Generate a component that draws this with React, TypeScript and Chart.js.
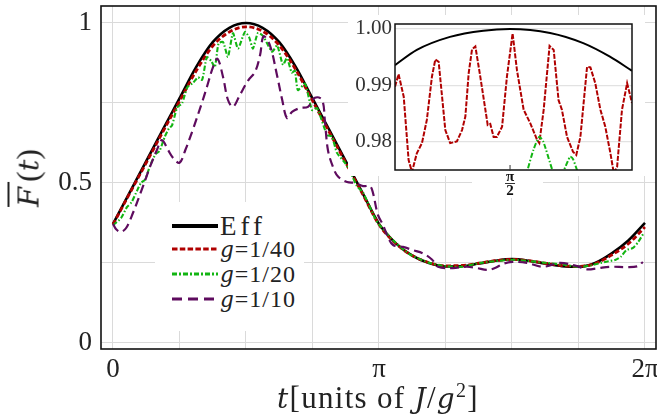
import React, { useEffect, useRef } from 'react';
import { Chart, registerables } from 'chart.js';

Chart.register(...registerables);

const FONT = '"Liberation Serif", "Tinos", "DejaVu Serif", "Noto Serif", serif';
const ITALIC_FONT = '"DejaVu Serif", "Liberation Serif", serif';
const RED = '#b00000';
const GREEN = '#12b512';
const PURPLE = '#5e0b5e';

// ---------- main plot (t in units of π) ----------
const tGrid = [0, 0.0625, 0.125, 0.1875, 0.25, 0.3125, 0.375, 0.4375, 0.5, 0.5625, 0.625, 0.6875, 0.75, 0.8125, 0.875, 0.9375, 1, 1.0625, 1.125, 1.1875, 1.25, 1.3125, 1.375, 1.4375, 1.5, 1.5625, 1.625, 1.6875, 1.75, 1.8125, 1.875, 1.9375, 2];
const effF = [0.372, 0.470, 0.568, 0.667, 0.764, 0.862, 0.940, 0.985, 1.000, 0.985, 0.940, 0.862, 0.764, 0.667, 0.568, 0.470, 0.372, 0.312, 0.273, 0.250, 0.239, 0.240, 0.248, 0.257, 0.262, 0.257, 0.248, 0.240, 0.238, 0.250, 0.280, 0.320, 0.375];
const g40F = [0.370, 0.467, 0.563, 0.660, 0.755, 0.850, 0.928, 0.972, 0.988, 0.974, 0.930, 0.853, 0.757, 0.660, 0.563, 0.467, 0.370, 0.311, 0.273, 0.251, 0.241, 0.242, 0.249, 0.257, 0.261, 0.257, 0.249, 0.242, 0.239, 0.248, 0.275, 0.310, 0.362];

const g20T = [0, 0.03, 0.053, 0.07, 0.09, 0.105, 0.12, 0.14, 0.16, 0.175, 0.195, 0.21, 0.222, 0.241, 0.26, 0.28, 0.30, 0.32, 0.335, 0.353, 0.37, 0.383, 0.397, 0.414, 0.432, 0.451, 0.470, 0.496, 0.512, 0.526, 0.545, 0.565, 0.598, 0.617, 0.639, 0.654, 0.672, 0.684, 0.695, 0.722, 0.748, 0.767, 0.805, 0.823, 0.842, 0.872, 0.895, 0.917, 0.94, 0.985, 1.0, 1.06, 1.12, 1.19, 1.25, 1.31, 1.38, 1.5, 1.56, 1.63, 1.70, 1.75, 1.80, 1.85, 1.89, 1.91, 1.93, 1.955, 1.975, 1.995];
const g20F = [0.368, 0.39, 0.425, 0.44, 0.475, 0.50, 0.51, 0.555, 0.59, 0.60, 0.645, 0.67, 0.68, 0.735, 0.75, 0.80, 0.812, 0.83, 0.822, 0.893, 0.88, 0.862, 0.937, 0.94, 0.894, 0.968, 0.92, 0.972, 0.955, 0.92, 0.969, 0.958, 0.91, 0.93, 0.869, 0.89, 0.845, 0.85, 0.79, 0.81, 0.728, 0.734, 0.65, 0.645, 0.594, 0.563, 0.53, 0.49, 0.47, 0.39, 0.37, 0.315, 0.275, 0.25, 0.24, 0.238, 0.25, 0.26, 0.256, 0.25, 0.244, 0.237, 0.243, 0.253, 0.26, 0.27, 0.29, 0.297, 0.316, 0.343];

const g10T = [0, 0.012, 0.03, 0.05, 0.075, 0.113, 0.139, 0.165, 0.184, 0.207, 0.226, 0.25, 0.272, 0.30, 0.338, 0.353, 0.376, 0.393, 0.414, 0.432, 0.451, 0.477, 0.508, 0.534, 0.553, 0.566, 0.59, 0.617, 0.636, 0.654, 0.673, 0.703, 0.733, 0.759, 0.786, 0.797, 0.808, 0.827, 0.846, 0.88, 0.91, 0.94, 0.966, 0.977, 0.996, 1.015, 1.034, 1.053, 1.09, 1.128, 1.165, 1.2, 1.222, 1.278, 1.33, 1.368, 1.406, 1.436, 1.466, 1.5, 1.556, 1.617, 1.68, 1.744, 1.782, 1.82, 1.868, 1.932, 1.974, 1.992];
const g10F = [0.372, 0.355, 0.347, 0.36, 0.406, 0.49, 0.55, 0.603, 0.634, 0.603, 0.578, 0.563, 0.603, 0.666, 0.76, 0.80, 0.862, 0.888, 0.83, 0.76, 0.738, 0.775, 0.82, 0.847, 0.90, 0.958, 0.93, 0.835, 0.76, 0.703, 0.722, 0.734, 0.738, 0.766, 0.76, 0.69, 0.603, 0.55, 0.52, 0.503, 0.50, 0.49, 0.49, 0.47, 0.40, 0.369, 0.33, 0.306, 0.30, 0.29, 0.28, 0.26, 0.238, 0.234, 0.238, 0.234, 0.228, 0.234, 0.247, 0.253, 0.25, 0.238, 0.25, 0.24, 0.23, 0.233, 0.238, 0.237, 0.24, 0.253];

const xTicks = [0, 0.25, 0.5, 0.75, 1, 1.25, 1.5, 1.75, 2];
const xTickText = ['0', '', '', '', 'π', '', '', '', '2π'];
const yTicks = [0, 0.25, 0.5, 0.75, 1];
const yTickText = ['0', '', '0.5', '', '1'];

// ---------- inset (t in units of π) ----------
const insetEffT = [0.4552, 0.4637, 0.4766, 0.4896, 0.5, 0.5156, 0.5285, 0.5389, 0.5475];
const insetEffF = [0.9936, 0.9963, 0.9986, 0.9997, 1.0, 0.9993, 0.9975, 0.9951, 0.9926];
const insetG40T = [0.4552, 0.4566, 0.4586, 0.4605, 0.4618, 0.4637, 0.4657, 0.4676, 0.4696, 0.4709, 0.4722, 0.4748, 0.4767, 0.4793, 0.4813, 0.4826, 0.4839, 0.4852, 0.4865, 0.4884, 0.4904, 0.4913, 0.4923, 0.4936, 0.4949, 0.4969, 0.4988, 0.5010, 0.5027, 0.5053, 0.5079, 0.5105, 0.5114, 0.5131, 0.5154, 0.5170, 0.5189, 0.5202, 0.5222, 0.5245, 0.5258, 0.5274, 0.5300, 0.5313, 0.5332, 0.5352, 0.5371, 0.5391, 0.5404, 0.5417, 0.5436, 0.5456, 0.5475];
const insetG40F = [0.9898, 0.9920, 0.9880, 0.9768, 0.9747, 0.9780, 0.9798, 0.9839, 0.9916, 0.9946, 0.9942, 0.9821, 0.9798, 0.9801, 0.9821, 0.9845, 0.9922, 0.9964, 0.9969, 0.9916, 0.9857, 0.9830, 0.9832, 0.9809, 0.9809, 0.9827, 0.9916, 0.9992, 0.9927, 0.9857, 0.9833, 0.9804, 0.9798, 0.9857, 0.9970, 0.9963, 0.9874, 0.9857, 0.9809, 0.9783, 0.9777, 0.9809, 0.9933, 0.9932, 0.9904, 0.9857, 0.9827, 0.9780, 0.9745, 0.9756, 0.9857, 0.9904, 0.9869];
const insetG20T = [0.504, 0.5068, 0.5091, 0.5114, 0.5130, 0.5165, 0.5187, 0.5210, 0.5234, 0.5245, 0.5261, 0.529];
const insetG20F = [0.970, 0.975, 0.9786, 0.9809, 0.9800, 0.975, 0.9725, 0.975, 0.9774, 0.9770, 0.975, 0.971];
const insetYTicks = [0.98, 0.99, 1.0];
const insetXTicks = [0.5];

const pts = (t: number[], f: number[]) => t.map((x, i) => ({ x, y: f[i] }));

const framePlugin = {
  id: 'frame',
  afterDraw(chart: any) {
    const { ctx, chartArea } = chart;
    const { left, top, right, bottom } = chartArea;
    ctx.save();
    ctx.strokeStyle = '#111';
    ctx.lineWidth = 1.6;
    ctx.strokeRect(left, top, right - left, bottom - top);
    ctx.restore();
  },
};

function MainChart() {
  const ref = useRef<HTMLCanvasElement>(null);
  useEffect(() => {
    const chart = new Chart(ref.current as HTMLCanvasElement, {
      type: 'line',
      data: {
        datasets: [
          { label: 'g=1/10', data: pts(g10T, g10F), borderColor: PURPLE, borderWidth: 2.2, borderDash: [9, 5], tension: 0.35, order: 1 },
          { label: 'g=1/20', data: pts(g20T, g20F), borderColor: GREEN, borderWidth: 2.1, borderDash: [5, 2, 1.5, 2], tension: 0.2, order: 2 },
          { label: 'g=1/40', data: pts(tGrid, g40F), borderColor: RED, borderWidth: 2.8, borderDash: [5, 2.5], cubicInterpolationMode: 'monotone', order: 3 },
          { label: 'Eff', data: pts(tGrid, effF), borderColor: '#000', borderWidth: 2.6, cubicInterpolationMode: 'monotone', order: 4 },
        ] as any,
      },
      options: {
        animation: false,
        responsive: false,
        maintainAspectRatio: false,
        elements: { point: { radius: 0 } },
        layout: { padding: { left: 0, right: 1, top: 6, bottom: 0 } },
        plugins: { legend: { display: false }, tooltip: { enabled: false } },
        scales: {
          x: {
            type: 'linear',
            min: -0.0451,
            max: 2.0414,
            afterBuildTicks: (s: any) => { s.ticks = xTicks.map((v) => ({ value: v })); },
            afterFit: (s: any) => { s.height = 71; s.paddingLeft = 0; s.paddingRight = 0; },
            grid: { color: '#dadada', lineWidth: 1, drawTicks: false },
            border: { display: false },
            ticks: {
              padding: 5,
              maxRotation: 0,
              autoSkip: false,
              color: '#222',
              font: { family: FONT, size: 27 },
              callback: (_v: any, i: number) => xTickText[i],
            },
          },
          y: {
            type: 'linear',
            min: -0.019,
            max: 1.053,
            afterBuildTicks: (s: any) => { s.ticks = yTicks.map((v) => ({ value: v })); },
            afterFit: (s: any) => { s.width = 101; s.paddingTop = 0; s.paddingBottom = 0; },
            grid: { color: '#dadada', lineWidth: 1, drawTicks: false },
            border: { display: false },
            ticks: {
              padding: 9,
              autoSkip: false,
              color: '#222',
              font: { family: FONT, size: 27 },
              callback: (_v: any, i: number) => yTickText[i],
            },
          },
        },
      } as any,
      plugins: [framePlugin],
    });
    return () => chart.destroy();
  }, []);
  return <canvas ref={ref} width={657} height={420} style={{ position: 'absolute', left: 0, top: 0, display: 'block' }} />;
}

const insetBgPlugin = {
  id: 'insetBg',
  beforeDraw(chart: any) {
    const { ctx } = chart;
    ctx.save();
    ctx.fillStyle = '#fff';
    ctx.fillRect(8, 5, 297, 161);
    ctx.fillRect(132, 162, 71, 26);
    ctx.restore();
  },
  afterDraw(chart: any) {
    const { ctx, chartArea, scales } = chart;
    const { left, top, right, bottom } = chartArea;
    ctx.save();
    ctx.strokeStyle = '#111';
    ctx.lineWidth = 1.5;
    ctx.strokeRect(left, top, right - left, bottom - top);
    const px = scales.x.getPixelForValue(insetXTicks[0]);
    ctx.strokeStyle = '#333';
    ctx.lineWidth = 1;
    ctx.beginPath();
    ctx.moveTo(px, bottom - 5);
    ctx.lineTo(px, bottom + 1);
    ctx.stroke();
    ctx.beginPath();
    ctx.moveTo(px - 5, bottom + 13.5);
    ctx.lineTo(px + 5, bottom + 13.5);
    ctx.stroke();
    ctx.restore();
  },
};

function InsetChart() {
  const ref = useRef<HTMLCanvasElement>(null);
  useEffect(() => {
    const chart = new Chart(ref.current as HTMLCanvasElement, {
      type: 'line',
      data: {
        datasets: [
          { label: 'g=1/20', data: pts(insetG20T, insetG20F), borderColor: GREEN, borderWidth: 2, borderDash: [5, 2, 1.5, 2], tension: 0.2, order: 1 },
          { label: 'g=1/40', data: pts(insetG40T, insetG40F), borderColor: RED, borderWidth: 2, borderDash: [5, 1.5], tension: 0, order: 2 },
          { label: 'Eff', data: pts(insetEffT, insetEffF), borderColor: '#000', borderWidth: 2, cubicInterpolationMode: 'monotone', order: 3 },
        ] as any,
      },
      options: {
        animation: false,
        responsive: false,
        maintainAspectRatio: false,
        elements: { point: { radius: 0 } },
        layout: { padding: { left: 0, right: 18, top: 14, bottom: 0 } },
        plugins: { legend: { display: false }, tooltip: { enabled: false } },
        scales: {
          x: {
            type: 'linear',
            min: 0.4552,
            max: 0.5475,
            afterBuildTicks: (s: any) => { s.ticks = insetXTicks.map((v) => ({ value: v })); },
            afterFit: (s: any) => { s.height = 32; s.paddingLeft = 0; s.paddingRight = 0; },
            grid: { display: false, drawTicks: false },
            border: { display: false },
            ticks: {
              padding: 0,
              maxRotation: 0,
              autoSkip: false,
              color: '#111',
              font: { family: FONT, size: 15, weight: 'bold', lineHeight: 0.95 },
              callback: () => ['π', '2'],
            },
          },
          y: {
            type: 'linear',
            min: 0.97504,
            max: 1.00088,
            afterBuildTicks: (s: any) => { s.ticks = insetYTicks.map((v) => ({ value: v })); },
            afterFit: (s: any) => { s.width = 55; s.paddingTop = 0; s.paddingBottom = 0; },
            grid: { color: '#e2e2e2', lineWidth: 1.2, drawTicks: false },
            border: { display: false },
            ticks: {
              padding: 3,
              autoSkip: false,
              color: '#333',
              font: { family: FONT, size: 21 },
              callback: (v: any) => Number(v).toFixed(2),
            },
          },
        },
      } as any,
      plugins: [insetBgPlugin],
    });
    return () => chart.destroy();
  }, []);
  return <canvas ref={ref} width={310} height={192} style={{ position: 'absolute', left: 340, top: 10, display: 'block' }} />;
}

const legendItems = [
  { label: 'Eff', italicG: false, color: '#000', width: 4, dash: '' },
  { label: '=1/40', italicG: true, color: RED, width: 3, dash: '5.5 2.3' },
  { label: '=1/20', italicG: true, color: GREEN, width: 3, dash: '5 2 2 2' },
  { label: '=1/10', italicG: true, color: PURPLE, width: 3, dash: '10 6' },
];
const legendRowCenters = [24, 47, 72, 97];

const Ital = ({ children, size }: { children: any; size?: number }) => (
  <span style={{ fontFamily: ITALIC_FONT, fontStyle: 'italic', fontSize: size ? size : '0.9em' }}>{children}</span>
);

function Legend() {
  return (
    <div style={{ position: 'absolute', left: 155, top: 202, width: 149, height: 129, background: '#fff', fontFamily: FONT, color: '#222' }}>
      {legendItems.map((it, i) => (
        <div key={i} style={{ position: 'absolute', left: 17, top: legendRowCenters[i] - 16, height: 32, display: 'flex', alignItems: 'center', whiteSpace: 'nowrap' }}>
          <svg width={46} height={10} style={{ display: 'block' }}>
            <line x1={0} y1={5} x2={46} y2={5} stroke={it.color} strokeWidth={it.width} strokeDasharray={it.dash || undefined} />
          </svg>
          <span style={{ marginLeft: 2, fontSize: it.italicG ? 24 : 27, letterSpacing: it.italicG ? 1 : 4, lineHeight: '32px' }}>
            {it.italicG ? <Ital>g</Ital> : null}
            {it.label}
          </span>
        </div>
      ))}
    </div>
  );
}

export default function App() {
  return (
    <div style={{ position: 'absolute', left: 0, top: 0, width: 657, height: 420, background: '#fff', overflow: 'hidden' }}>
      <MainChart />
      <InsetChart />
      <Legend />
      <div style={{ position: 'absolute', left: 28, top: 178, transform: 'translate(-50%, -50%) rotate(-90deg)', fontFamily: FONT, fontSize: 32, color: '#222', whiteSpace: 'nowrap', lineHeight: '38px' }}>
        <span style={{ borderTop: '2px solid #222', paddingRight: 5 }}><Ital>F</Ital></span>(<Ital>t</Ital>)
      </div>
      <div style={{ position: 'absolute', left: 277, top: 382, fontFamily: FONT, fontSize: 31, letterSpacing: 1.3, color: '#222', whiteSpace: 'nowrap', lineHeight: '32px' }}>
        <Ital>t</Ital>[units of <Ital>J</Ital>/<Ital>g</Ital><sup style={{ fontSize: 20, lineHeight: 0 }}>2</sup>]
      </div>
    </div>
  );
}
